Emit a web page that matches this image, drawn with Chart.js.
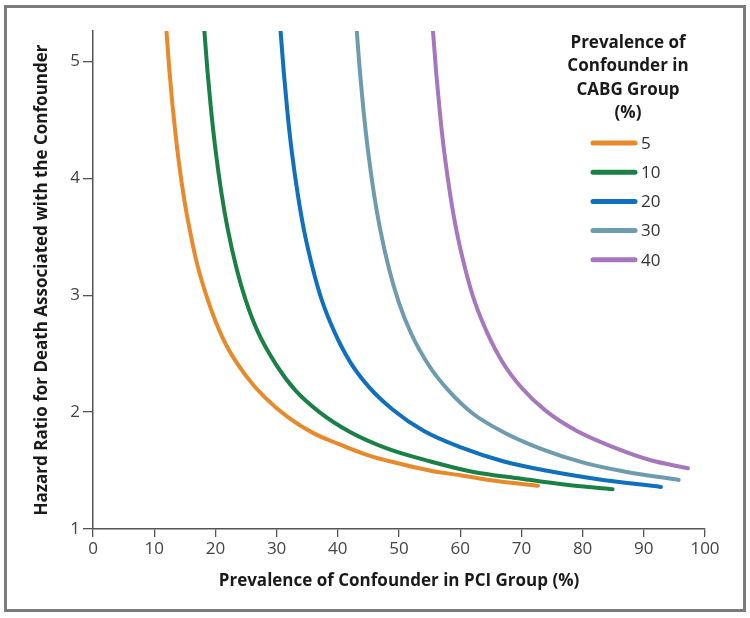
<!DOCTYPE html>
<html>
<head>
<meta charset="utf-8">
<script src="https://cdn.jsdelivr.net/npm/chart.js@4.4.1/dist/chart.umd.min.js"></script>
<style>
  html, body { margin: 0; padding: 0; background: #ffffff; }
  #wrap { position: relative; width: 750px; height: 618px; }
</style>
</head>
<body>
<div id="wrap"><canvas id="confChart" width="750" height="618"></canvas></div>
<script>
// CABG prevalence groups (%)
const cabgGroups = ['5', '10', '20', '30', '40'];
const lineColors = ['#e8892b', '#1b8046', '#1070be', '#6f9bb1', '#a677bf'];

// x = prevalence in PCI group (%), y = hazard ratio
const pci5 = [12.0, 12.5, 13.0, 13.5, 14.0, 15.0, 16.0, 17.0, 18.5, 20.0, 22.0, 25.0, 28.0, 32.0, 36.0, 40.0, 45.0, 50.0, 55.0, 60.0, 66.0, 72.7];
const hr5  = [5.26, 4.91, 4.62, 4.37, 4.15, 3.79, 3.51, 3.27, 3.00, 2.78, 2.55, 2.31, 2.13, 1.95, 1.82, 1.73, 1.63, 1.56, 1.50, 1.46, 1.41, 1.37];

const pci10 = [18.2, 18.7, 19.3, 20.0, 21.0, 22.0, 23.5, 25.0, 27.0, 30.0, 33.0, 37.0, 42.0, 48.0, 55.0, 62.0, 70.0, 77.0, 84.9];
const hr10  = [5.26, 4.92, 4.58, 4.25, 3.87, 3.57, 3.22, 2.95, 2.68, 2.40, 2.19, 2.00, 1.83, 1.69, 1.58, 1.49, 1.43, 1.38, 1.34];

const pci20 = [30.65, 31.2, 31.8, 32.5, 33.5, 34.5, 36.0, 37.5, 39.5, 42.0, 45.0, 49.0, 54.0, 60.0, 67.0, 74.0, 82.0, 92.8];
const hr20  = [5.26, 4.89, 4.55, 4.22, 3.85, 3.55, 3.21, 2.94, 2.68, 2.43, 2.22, 2.02, 1.84, 1.70, 1.58, 1.50, 1.43, 1.36];

const pci30 = [43.1, 43.6, 44.2, 44.9, 45.9, 46.9, 48.4, 49.9, 52.0, 55.0, 58.0, 62.0, 67.0, 73.0, 80.0, 87.0, 95.7];
const hr30  = [5.26, 4.92, 4.58, 4.25, 3.87, 3.57, 3.22, 2.95, 2.67, 2.39, 2.19, 1.99, 1.83, 1.69, 1.57, 1.49, 1.42];

const pci40 = [55.55, 56.1, 56.7, 57.4, 58.4, 59.4, 60.9, 62.4, 64.4, 67.0, 70.0, 74.0, 79.0, 85.0, 91.0, 97.2];
const hr40  = [5.26, 4.89, 4.55, 4.22, 3.85, 3.55, 3.21, 2.94, 2.68, 2.42, 2.21, 2.01, 1.84, 1.70, 1.59, 1.52];

const xTicks = [0, 10, 20, 30, 40, 50, 60, 70, 80, 90, 100];
const yTicks = [1, 2, 3, 4, 5];

const seriesX = [pci5, pci10, pci20, pci30, pci40];
const seriesY = [hr5, hr10, hr20, hr30, hr40];

function zip(xs, ys) {
    return xs.map((x, i) => ({ x: x, y: ys[i] }));
}

const datasets = cabgGroups.map((g, i) => ({
    label: g,
    data: zip(seriesX[i], seriesY[i]),
    borderColor: lineColors[i],
    borderWidth: 4,
    pointRadius: 0,
    cubicInterpolationMode: 'monotone',
    borderCapStyle: 'round',
    fill: false
}));

// grey frame round the figure
const framePlugin = {
    id: 'frame',
    beforeDraw(chart) {
        const c = chart.ctx;
        c.save();
        c.fillStyle = '#ffffff';
        c.fillRect(0, 0, chart.width, chart.height);
        c.strokeStyle = '#7b7b7b';
        c.lineWidth = 3;
        c.strokeRect(5.5, 6.5, 739, 604);
        c.restore();
    }
};

// legend drawn inside the plot, top right
const legendPlugin = {
    id: 'cornerLegend',
    afterDraw(chart) {
        const c = chart.ctx;
        c.save();
        c.fillStyle = '#1a1a1a';
        c.font = 'bold 17px "Open Sans"';
        c.textAlign = 'center';
        c.textBaseline = 'middle';
        const titleLines = ['Prevalence of', 'Confounder in', 'CABG Group', '(%)'];
        titleLines.forEach((t, i) => c.fillText(t, 628, 43 + i * 23.5));
        c.font = '17px "Open Sans"';
        c.textAlign = 'left';
        chart.data.datasets.forEach((ds, i) => {
            const y = 143 + i * 29.2;
            c.strokeStyle = ds.borderColor;
            c.lineWidth = 5;
            c.lineCap = 'round';
            c.beginPath();
            c.moveTo(593, y);
            c.lineTo(635, y);
            c.stroke();
            c.fillStyle = '#333333';
            c.fillText(ds.label, 641, y + 1);
        });
        c.restore();
    }
};

const ctx = document.getElementById('confChart').getContext('2d');
const confChart = new Chart(ctx, {
    type: 'line',
    data: { datasets: datasets },
    options: {
        responsive: false,
        animation: false,
        layout: { padding: { left: 28, right: 45, top: 31, bottom: 0 } },
        plugins: {
            legend: { display: false },
            tooltip: { enabled: false }
        },
        scales: {
            x: {
                type: 'linear',
                min: 0,
                max: 100,
                afterFit(scale) { scale.height = 89; },
                afterBuildTicks(scale) { scale.ticks = xTicks.map(v => ({ value: v })); },
                grid: { drawOnChartArea: false, drawTicks: true, tickLength: 8, color: '#555555', lineWidth: 1.3 },
                border: { display: true, color: '#555555', width: 1.5 },
                ticks: { color: '#444444', font: { family: 'Open Sans', size: 17 }, padding: 2, maxRotation: 0 },
                title: {
                    display: true,
                    text: 'Prevalence of Confounder in PCI Group (%)',
                    color: '#1a1a1a',
                    font: { family: 'Open Sans', size: 17, weight: 'bold' },
                    padding: { top: 0, bottom: 27 }
                }
            },
            y: {
                type: 'linear',
                min: 1,
                max: 5.26,
                afterFit(scale) { scale.width = 65; },
                afterBuildTicks(scale) { scale.ticks = yTicks.map(v => ({ value: v })); },
                grid: { drawOnChartArea: false, drawTicks: true, tickLength: 10, color: '#555555', lineWidth: 1.3 },
                border: { display: true, color: '#555555', width: 1.5 },
                ticks: { color: '#444444', font: { family: 'Open Sans', size: 17 }, padding: 3 },
                title: {
                    display: true,
                    text: 'Hazard Ratio for Death Associated with the Confounder',
                    color: '#1a1a1a',
                    font: { family: 'Open Sans', size: 17, weight: 'bold' },
                    padding: { top: 4, bottom: 0 }
                }
            }
        }
    },
    plugins: [framePlugin, legendPlugin]
});
</script>
</body>
</html>
